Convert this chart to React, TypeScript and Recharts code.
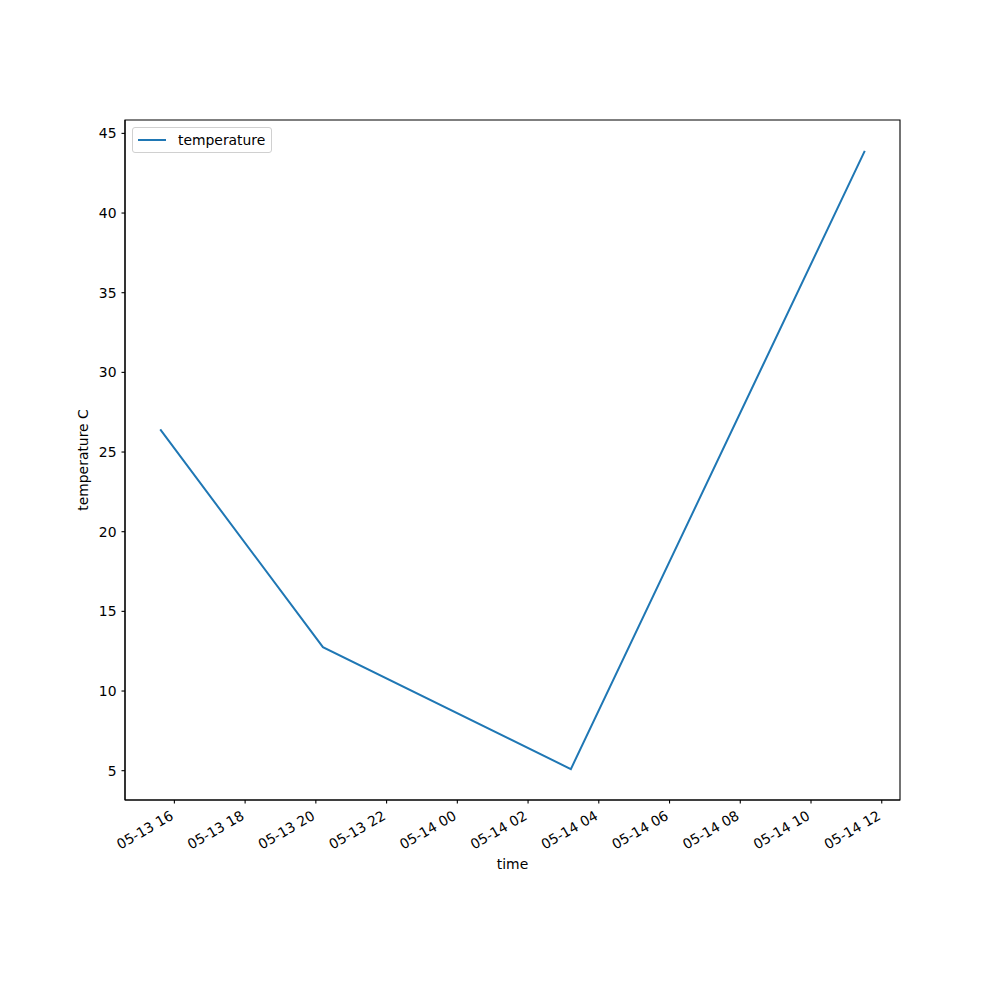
import React from 'react';
import {
  LineChart,
  Line,
  XAxis,
  YAxis,
  ReferenceArea,
} from 'recharts';

// hours since 05-13 00:00
const times = [15.6, 20.2, 27.21, 35.52];
const temperatures = [26.42, 12.75, 5.1, 43.9];
const xTicks = [16, 18, 20, 22, 24, 26, 28, 30, 32, 34, 36];
const yTicks = [5, 10, 15, 20, 25, 30, 35, 40, 45];

const data = times.map((t, i) => ({ time: t, temperature: temperatures[i] }));

const pad = (lo: number, hi: number): [number, number] => {
  const m = (hi - lo) * 0.05;
  return [lo - m, hi + m];
};
const xDomain = pad(Math.min(...times), Math.max(...times));
const yDomain = pad(Math.min(...temperatures), Math.max(...temperatures));

const FONT = 'DejaVu Sans, sans-serif';

const fmtTime = (h: number) => {
  const day = 13 + Math.floor(h / 24);
  const hr = h % 24;
  return `05-${day} ${String(hr).padStart(2, '0')}`;
};

const TimeTick = ({ x, y, payload }: any) => (
  <text
    x={x}
    y={y + 13}
    textAnchor="end"
    transform={`rotate(-30, ${x}, ${y + 13})`}
    fontFamily={FONT}
    fontSize={13.9}
    fill="#000"
  >
    {fmtTime(payload.value)}
  </text>
);

export default function App() {
  return (
    <div style={{ position: 'absolute', left: 0, top: 0, width: 1000, height: 1000, background: '#fff' }}>
      <LineChart
        width={1000}
        height={1000}
        data={data}
        margin={{ top: 120, right: 100, bottom: 120, left: 65 }}
      >
        <XAxis
          dataKey="time"
          type="number"
          domain={xDomain}
          ticks={xTicks}
          allowDataOverflow
          height={80}
          stroke="#000"
          tickSize={3.5}
          tick={<TimeTick />}
          tickLine={{ stroke: '#000', strokeWidth: 1.1 }}
          axisLine={{ stroke: '#000', strokeWidth: 1.1 }}
          label={{ value: 'time', position: 'insideTop', offset: 0, dy: 59, fontFamily: FONT, fontSize: 13.9, fill: '#000' }}
        />
        <YAxis
          type="number"
          domain={yDomain}
          ticks={yTicks}
          allowDataOverflow
          width={60}
          tickSize={3.5}
          tickMargin={5}
          tick={{ fontFamily: FONT, fontSize: 13.9, fill: '#000' }}
          tickLine={{ stroke: '#000', strokeWidth: 1.1 }}
          axisLine={{ stroke: '#000', strokeWidth: 1.1 }}
          label={{ value: 'temperature C', angle: -90, position: 'center', dx: -12, fontFamily: FONT, fontSize: 13.9, fill: '#000' }}
        />
        <ReferenceArea
          x1={xDomain[0]}
          x2={xDomain[1]}
          y1={yDomain[0]}
          y2={yDomain[1]}
          fill="none"
          stroke="#000"
          strokeWidth={1.1}
          fillOpacity={0}
        />
        <Line
          type="linear"
          dataKey="temperature"
          stroke="#1f77b4"
          strokeWidth={2}
          dot={false}
          isAnimationActive={false}
        />
      </LineChart>
      {/* Legend */}
      <div
        style={{
          position: 'absolute',
          left: 132,
          top: 127,
          border: '1px solid #d0d0d0',
          borderRadius: 3,
          background: 'rgba(255,255,255,0.8)',
          display: 'flex',
          alignItems: 'center',
          padding: '3px 6px 3px 5px',
          fontFamily: FONT,
          fontSize: 13.9,
          color: '#000',
          height: 18,
        }}
      >
        <div style={{ width: 28, height: 2, background: '#1f77b4', marginRight: 12 }} />
        <span>temperature</span>
      </div>
    </div>
  );
}
